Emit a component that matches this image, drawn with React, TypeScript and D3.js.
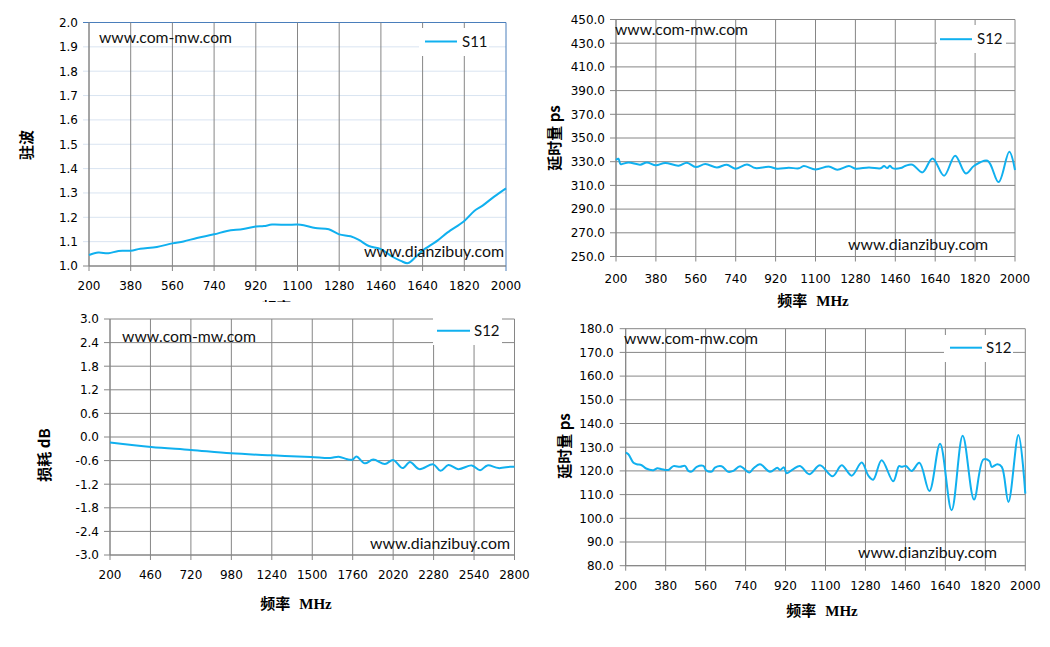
import React from 'react';
import * as d3 from 'd3';

// ---------- data ----------
// Panel 1: VSWR (S11)
const vswrFreq = [200, 240, 284, 327, 380, 421, 493, 560, 608, 666, 740, 796, 866, 920, 955, 990, 1055, 1100, 1127, 1177, 1235, 1280, 1329, 1365, 1408, 1460, 1510, 1546, 1577, 1611, 1640, 1704, 1748, 1820, 1863, 1899, 1949, 2000];
const vswrValue = [1.045, 1.055, 1.052, 1.062, 1.063, 1.071, 1.078, 1.093, 1.101, 1.115, 1.130, 1.144, 1.152, 1.162, 1.164, 1.170, 1.169, 1.170, 1.167, 1.156, 1.151, 1.130, 1.122, 1.107, 1.082, 1.069, 1.038, 1.021, 1.012, 1.038, 1.063, 1.104, 1.138, 1.185, 1.226, 1.248, 1.285, 1.319];
const vswrXTicks = [200, 380, 560, 740, 920, 1100, 1280, 1460, 1640, 1820, 2000];
const vswrYTicks = [1.0, 1.1, 1.2, 1.3, 1.4, 1.5, 1.6, 1.7, 1.8, 1.9, 2.0];

// Panel 2: group delay, long cable (S12)
const delayAFreq = [200, 211, 221, 256, 309, 339, 380, 422, 482, 520, 560, 603, 655, 700, 738, 791, 829, 889, 927, 979, 1025, 1047, 1100, 1160, 1198, 1251, 1281, 1341, 1394, 1409, 1424, 1435, 1447, 1484, 1507, 1537, 1582, 1628, 1680, 1730, 1778, 1816, 1876, 1926, 1974, 2000];
const delayAValue = [331.5, 332.5, 328, 329.4, 327.5, 329.4, 327, 329, 326.6, 329.2, 325.5, 328, 325.2, 327.5, 324.1, 327.7, 324.6, 325.8, 324.1, 324.9, 324.4, 326.3, 323.5, 326, 323.2, 326.3, 324.1, 325.2, 324.4, 326.3, 324.6, 326.6, 324.6, 324.6, 326.6, 327.5, 321, 332.8, 318.2, 335.1, 320.1, 326.6, 330.8, 312.8, 338.5, 323];
const delayAXTicks = [200, 380, 560, 740, 920, 1100, 1280, 1460, 1640, 1820, 2000];
const delayAYTicks = [250, 270, 290, 310, 330, 350, 370, 390, 410, 430, 450];

// Panel 3: insertion loss (S12)
const lossFreq = [200, 465, 720, 978, 1240, 1493, 1615, 1670, 1726, 1759, 1784, 1838, 1892, 1967, 2020, 2081, 2128, 2188, 2278, 2325, 2375, 2439, 2525, 2579, 2626, 2697, 2772, 2800];
const lossValue = [-0.14, -0.254, -0.33, -0.415, -0.466, -0.508, -0.534, -0.5, -0.568, -0.575, -0.496, -0.67, -0.574, -0.687, -0.583, -0.791, -0.635, -0.817, -0.696, -0.861, -0.713, -0.817, -0.722, -0.843, -0.722, -0.791, -0.757, -0.757];
const lossXTicks = [200, 460, 720, 980, 1240, 1500, 1760, 2020, 2280, 2540, 2800];
const lossYTicks = [-3.0, -2.4, -1.8, -1.2, -0.6, 0.0, 0.6, 1.2, 1.8, 2.4, 3.0];

// Panel 4: group delay, short cable (S12)
const delayBFreq = [200, 212, 235, 250, 272, 292, 325, 343, 362, 392, 415, 445, 467, 482, 497, 520, 550, 562, 587, 602, 632, 662, 685, 715, 757, 775, 805, 850, 883, 895, 913, 925, 955, 985, 1027, 1075, 1132, 1173, 1218, 1263, 1293, 1315, 1353, 1405, 1431, 1443, 1462, 1488, 1523, 1568, 1616, 1668, 1718, 1769, 1811, 1838, 1849, 1874, 1894, 1924, 1969, 2000];
const delayBValue = [127.7, 127.0, 123.4, 122.8, 122.4, 121, 120.3, 121.1, 120.7, 120.4, 122, 121.7, 122.1, 120, 119.7, 121.7, 122.1, 120.3, 119.7, 121.4, 122, 119.6, 120, 122, 119.3, 121, 122.8, 119.6, 121.3, 120.4, 121.5, 119, 120.8, 122.1, 118.6, 122.4, 117.7, 122.4, 118, 123.5, 118, 116.3, 124.5, 115.6, 122, 121.7, 122.1, 120, 123.4, 111.5, 131.5, 103.4, 134.8, 107.9, 124.8, 124.2, 121.7, 122.8, 121.7, 106.9, 135.2, 110.4];
const delayBXTicks = [200, 380, 560, 740, 920, 1100, 1280, 1460, 1640, 1820, 2000];
const delayBYTicks = [80, 90, 100, 110, 120, 130, 140, 150, 160, 170, 180];

// ---------- styles ----------
const LINE = '#10b0ef';
const GRID = '#868686';
const TICK_FONT = '"DejaVu Sans", Verdana, sans-serif';
const WM_FONT = 'Lato, "Open Sans", sans-serif';
const CJK_FONT = '"Noto Sans CJK SC", sans-serif';

type Box = { x: number; y: number; w: number; h: number };
type PanelProps = {
  left: number; right: number; top: number; bottom: number;
  xTicks: number[]; yTicks: number[]; yDigits: number;
  freq: number[]; vals: number[];
  hGrid: string; border: string;
  xTickBase: number; yLabelGap: number;
  yTitle: string; yTitleX: number; yTitleY: number;
  xTitleX: number; xTitleY: number;
  legendName: string; legendBox: Box; legendLineY: number; legendLineX: [number, number]; legendTextX: number;
  wm1: [number, number, number]; wm2: [number, number, number];
};

function Panel(p: PanelProps) {
  const x = d3.scaleLinear().domain([p.xTicks[0], p.xTicks[p.xTicks.length - 1]]).range([p.left, p.right]);
  const y = d3.scaleLinear().domain([p.yTicks[0], p.yTicks[p.yTicks.length - 1]]).range([p.bottom, p.top]);
  const pts: [number, number][] = p.freq.map((f, i) => [f, p.vals[i]]);
  const line = d3.line<[number, number]>().x(d => x(d[0])).y(d => y(d[1])).curve(d3.curveCatmullRom.alpha(0.5));
  const fmt0 = d3.format(`.${p.yDigits}f`);
  const fmt = (v: number) => fmt0(v).replace('\u2212', '-');
  const yMax = p.yTicks[p.yTicks.length - 1];
  const xMax = p.xTicks[p.xTicks.length - 1];
  return (
    <g>
      {p.yTicks.map(t => (
        <line key={'h' + t} x1={p.left - 6} x2={p.right} y1={y(t)} y2={y(t)}
          stroke={t === yMax ? p.border : (t === p.yTicks[0] ? GRID : p.hGrid)} strokeWidth={1} />
      ))}
      {p.xTicks.map(t => (
        <line key={'v' + t} x1={x(t)} x2={x(t)} y1={p.top} y2={p.bottom + 5}
          stroke={t === xMax ? p.border : GRID} strokeWidth={1} />
      ))}
      <line x1={p.left} x2={p.right} y1={p.bottom} y2={p.bottom} stroke={GRID} />
      <line x1={p.left} x2={p.left} y1={p.top} y2={p.bottom} stroke={GRID} />
      {p.yTicks.map(t => (
        <text key={'yl' + t} x={p.left - p.yLabelGap} y={y(t)} dy="0.36em" textAnchor="end"
          fontFamily={TICK_FONT} fontSize={12} fill="#000">{fmt(t)}</text>
      ))}
      {p.xTicks.map(t => (
        <text key={'xl' + t} x={x(t)} y={p.xTickBase} textAnchor="middle"
          fontFamily={TICK_FONT} fontSize={12} fill="#000">{t}</text>
      ))}
      <path d={line(pts) || ''} fill="none" stroke={LINE} strokeWidth={2} strokeLinejoin="round" />
      <text x={p.wm1[0]} y={p.wm1[1]} textLength={p.wm1[2]} lengthAdjust="spacingAndGlyphs"
        fontFamily={WM_FONT} fontSize={16} fill="#111">www.com-mw.com</text>
      <text x={p.wm2[0]} y={p.wm2[1]} textLength={p.wm2[2]} lengthAdjust="spacingAndGlyphs"
        fontFamily={WM_FONT} fontSize={16} fill="#111">www.dianzibuy.com</text>
      <rect x={p.legendBox.x} y={p.legendBox.y} width={p.legendBox.w} height={p.legendBox.h} fill="#fff" />
      <line x1={p.legendLineX[0]} x2={p.legendLineX[1]} y1={p.legendLineY} y2={p.legendLineY} stroke={LINE} strokeWidth={2} />
      <text x={p.legendTextX} y={p.legendLineY + 5} fontFamily={WM_FONT} fontSize={15} fill="#111">{p.legendName}</text>
      <text transform={`translate(${p.yTitleX},${p.yTitleY}) rotate(-90)`} textAnchor="middle" dy="0.35em"
        fontFamily={CJK_FONT} fontWeight={700} fontSize={15} fill="#000">{p.yTitle}</text>
      <text x={p.xTitleX} y={p.xTitleY} textAnchor="middle" fontWeight={700} fontSize={15} fill="#000">
        <tspan fontFamily={CJK_FONT}>频率</tspan>
        <tspan dx={9} fontFamily='"Liberation Serif", serif'>MHz</tspan>
      </text>
    </g>
  );
}

export default function App() {
  return (
    <svg width={1050} height={647} style={{ position: 'absolute', left: 0, top: 0, background: '#fff' }}>
      <rect x={0} y={0} width={1050} height={647} fill="#fff" />
      <Panel left={89} right={506} top={22.5} bottom={266}
        xTicks={vswrXTicks} yTicks={vswrYTicks} yDigits={1}
        freq={vswrFreq} vals={vswrValue}
        hGrid="#d9e4f1" border="#4a7ebb"
        xTickBase={290} yLabelGap={11}
        yTitle="驻波" yTitleX={27} yTitleY={145}
        xTitleX={297} xTitleY={313}
        legendName="S11" legendBox={{ x: 419, y: 28, w: 70, h: 28 }} legendLineY={41.5} legendLineX={[425, 457]} legendTextX={462}
        wm1={[99, 43, 133]} wm2={[364, 257, 140]} />
      <Panel left={616} right={1015} top={19.5} bottom={256.5}
        xTicks={delayAXTicks} yTicks={delayAYTicks} yDigits={1}
        freq={delayAFreq} vals={delayAValue}
        hGrid={GRID} border={GRID}
        xTickBase={283} yLabelGap={11}
        yTitle="延时量 ps" yTitleX={555} yTitleY={138}
        xTitleX={813} xTitleY={306}
        legendName="S12" legendBox={{ x: 937, y: 25, w: 69, h: 28 }} legendLineY={39.2} legendLineX={[940, 972]} legendTextX={977}
        wm1={[615, 35, 133]} wm2={[848, 250, 140]} />
      <rect x={0} y={302} width={545} height={345} fill="#fff" />
      <Panel left={110} right={514.5} top={319} bottom={555}
        xTicks={lossXTicks} yTicks={lossYTicks} yDigits={1}
        freq={lossFreq} vals={lossValue}
        hGrid={GRID} border={GRID}
        xTickBase={579} yLabelGap={11}
        yTitle="损耗 dB" yTitleX={45} yTitleY={455}
        xTitleX={296} xTitleY={609}
        legendName="S12" legendBox={{ x: 433, y: 316, w: 69, h: 29 }} legendLineY={330.7} legendLineX={[437, 470]} legendTextX={474}
        wm1={[122, 342, 134]} wm2={[370, 549, 140]} />
      <Panel left={625.7} right={1025.3} top={328.7} bottom={565.7}
        xTicks={delayBXTicks} yTicks={delayBYTicks} yDigits={1}
        freq={delayBFreq} vals={delayBValue}
        hGrid={GRID} border={GRID}
        xTickBase={590} yLabelGap={12}
        yTitle="延时量 ps" yTitleX={565} yTitleY={446}
        xTitleX={822} xTitleY={616}
        legendName="S12" legendBox={{ x: 944, y: 335, w: 69, h: 27 }} legendLineY={347.7} legendLineX={[950, 982]} legendTextX={986}
        wm1={[624, 344, 134]} wm2={[858, 557.5, 139]} />
    </svg>
  );
}
